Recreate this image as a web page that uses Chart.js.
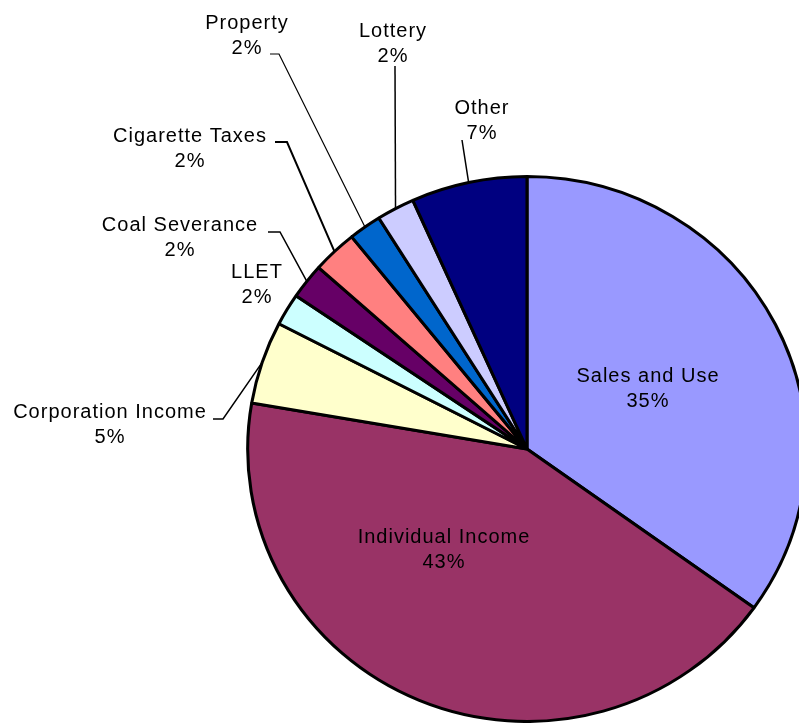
<!DOCTYPE html>
<html><head><meta charset="utf-8">
<script src="https://cdn.jsdelivr.net/npm/chart.js@4.4.0/dist/chart.umd.min.js"></script>
<style>html,body{margin:0;padding:0;background:#fff;overflow:hidden}canvas{display:block}</style>
</head><body>
<canvas id="c" width="799" height="723"></canvas>
<script>
const categories = ['Sales and Use','Individual Income','Corporation Income','LLET','Coal Severance','Cigarette Taxes','Property','Lottery','Other'];
const shares = [34.9, 42.8, 4.9, 1.9, 2.1, 2.6, 1.9, 2.2, 6.7];
const pctText = ['35%','43%','5%','2%','2%','2%','2%','2%','7%'];
const colors = ['#9999FF','#993366','#FFFFCC','#CCFFFF','#660066','#FF8080','#0066CC','#CCCCFF','#000080'];
// text layout (centre of the name line) and leader-line elbows
const labelLayout = [
  {x:648, y:376},
  {x:444, y:537},
  {x:110, y:412, elbow:[[213,419],[223,419]], w:1.5},
  {x:257, y:272},
  {x:180, y:225, elbow:[[268,232],[280,232]], w:1.5},
  {x:190, y:136, elbow:[[275,142],[287,142]], w:2},
  {x:247, y:23,  elbow:[[270,54],[279,54]], w:1.2},
  {x:393, y:31,  elbow:[[395,66]], w:1.5},
  {x:482, y:108, elbow:[[462,140]], w:1.5}
];
const stretchX = 1.025;

const labelPlugin = {
  id: 'pieLabels',
  beforeDatasetsDraw(chart) {
    const ctx = chart.ctx;
    const a = chart.getDatasetMeta(0).data[0];
    ctx.save();
    ctx.translate(a.x, a.y);
    ctx.scale(stretchX, 1);
    ctx.translate(-a.x, -a.y);
  },
  afterDatasetsDraw(chart) {
    const ctx = chart.ctx;
    ctx.restore();
    const meta = chart.getDatasetMeta(0);
    ctx.save();
    ctx.font = '20px "Liberation Sans", Arial, sans-serif';
    try { ctx.letterSpacing = '1px'; } catch (e) {}
    ctx.fillStyle = '#000';
    ctx.strokeStyle = '#000';
    ctx.textAlign = 'center';
    ctx.textBaseline = 'middle';
    meta.data.forEach((arc, i) => {
      const L = labelLayout[i];
      if (L.elbow) {
        const p = arc.getProps(['x','y','startAngle','endAngle','outerRadius'], true);
        const mid = (p.startAngle + p.endAngle) / 2;
        const px = p.x + Math.cos(mid) * p.outerRadius * stretchX;
        const py = p.y + Math.sin(mid) * p.outerRadius;
        ctx.lineWidth = L.w;
        ctx.beginPath();
        ctx.moveTo(L.elbow[0][0], L.elbow[0][1]);
        for (let k = 1; k < L.elbow.length; k++) ctx.lineTo(L.elbow[k][0], L.elbow[k][1]);
        ctx.lineTo(px, py);
        ctx.stroke();
      }
      ctx.fillText(categories[i], L.x, L.y);
      ctx.fillText(pctText[i], L.x, L.y + 25);
    });
    ctx.restore();
  }
};

new Chart(document.getElementById('c'), {
  type: 'pie',
  data: {
    labels: categories,
    datasets: [{ data: shares, backgroundColor: colors, borderColor: '#000', borderWidth: 3 }]
  },
  options: {
    responsive: false,
    animation: false,
    radius: 272.5,
    layout: { padding: { left: 255, right: 0, top: 175, bottom: 0 } },
    plugins: { legend: { display: false }, tooltip: { enabled: false } }
  },
  plugins: [labelPlugin]
});
</script>
</body></html>
